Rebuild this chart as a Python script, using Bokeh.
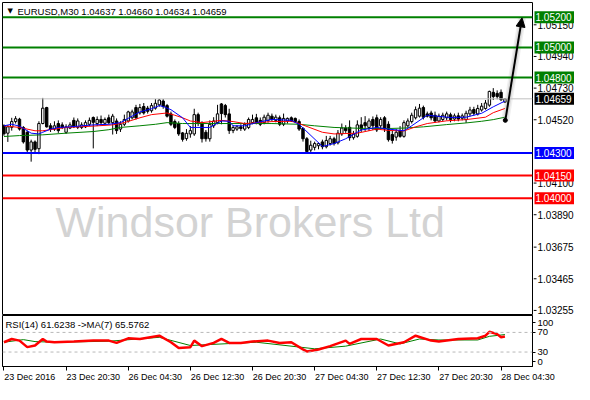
from bokeh.plotting import figure
from bokeh.layouts import column, row
from bokeh.models import (Range1d, FixedTicker, Span, Label, Arrow, NormalHead,
                          ColumnDataSource, CustomJSTickFormatter)
from bokeh.core.properties import value
from bokeh.embed import file_html
from bokeh.resources import INLINE

# ---------------- data ----------------
opens = [1.04480, 1.04431, 1.04470, 1.04508, 1.04524, 1.04469, 1.04437, 1.04319, 1.04373, 1.04328,
         1.04495, 1.04601, 1.04480, 1.04458, 1.04495, 1.04486, 1.04437, 1.04465, 1.04516, 1.04470,
         1.04469, 1.04473, 1.04490, 1.04535, 1.04495, 1.04522, 1.04497, 1.04533, 1.04501, 1.04512,
         1.04458, 1.04490, 1.04512, 1.04533, 1.04601, 1.04565, 1.04608, 1.04597, 1.04580, 1.04597,
         1.04619, 1.04644, 1.04614, 1.04559, 1.04508, 1.04495, 1.04433, 1.04395, 1.04426, 1.04426,
         1.04554, 1.04501, 1.04437, 1.04394, 1.04480, 1.04501, 1.04625, 1.04614, 1.04559, 1.04448,
         1.04458, 1.04473, 1.04458, 1.04469, 1.04501, 1.04533, 1.04516, 1.04501, 1.04516, 1.04544,
         1.04516, 1.04533, 1.04490, 1.04512, 1.04533, 1.04529, 1.04508, 1.04463, 1.04394, 1.04319,
         1.04337, 1.04348, 1.04373, 1.04341, 1.04362, 1.04394, 1.04367, 1.04426, 1.04465, 1.04470,
         1.04401, 1.04410, 1.04486, 1.04501, 1.04469, 1.04522, 1.04533, 1.04480, 1.04533, 1.04490,
         1.04422, 1.04405, 1.04448, 1.04410, 1.04480, 1.04508, 1.04533, 1.04544, 1.04601, 1.04559,
         1.04565, 1.04550, 1.04512, 1.04522, 1.04533, 1.04553, 1.04525, 1.04546, 1.04530, 1.04521,
         1.04559, 1.04588, 1.04559, 1.04585, 1.04595, 1.04617, 1.04702, 1.04695, 1.04702, 1.04637]
highs = [1.04490, 1.04484, 1.04533, 1.04544, 1.04533, 1.04478, 1.04448, 1.04388, 1.04383, 1.04510,
         1.04665, 1.04606, 1.04497, 1.04510, 1.04516, 1.04503, 1.04490, 1.04503, 1.04535, 1.04529,
         1.04503, 1.04516, 1.04535, 1.04542, 1.04542, 1.04548, 1.04535, 1.04554, 1.04559, 1.04529,
         1.04510, 1.04554, 1.04580, 1.04587, 1.04619, 1.04625, 1.04631, 1.04612, 1.04631, 1.04657,
         1.04657, 1.04657, 1.04625, 1.04574, 1.04522, 1.04510, 1.04439, 1.04458, 1.04478, 1.04593,
         1.04567, 1.04510, 1.04452, 1.04516, 1.04537, 1.04619, 1.04631, 1.04625, 1.04593, 1.04484,
         1.04484, 1.04490, 1.04503, 1.04535, 1.04554, 1.04559, 1.04535, 1.04554, 1.04567, 1.04561,
         1.04554, 1.04548, 1.04561, 1.04535, 1.04542, 1.04535, 1.04522, 1.04470, 1.04405, 1.04381,
         1.04375, 1.04369, 1.04388, 1.04413, 1.04413, 1.04407, 1.04452, 1.04495, 1.04484, 1.04516,
         1.04446, 1.04516, 1.04537, 1.04544, 1.04529, 1.04542, 1.04554, 1.04537, 1.04544, 1.04510,
         1.04446, 1.04458, 1.04478, 1.04516, 1.04529, 1.04567, 1.04608, 1.04625, 1.04614, 1.04574,
         1.04580, 1.04574, 1.04561, 1.04567, 1.04574, 1.04567, 1.04561, 1.04567, 1.04561, 1.04580,
         1.04606, 1.04606, 1.04619, 1.04631, 1.04651, 1.04713, 1.04730, 1.04715, 1.04721, 1.04660]
lows = [1.04414, 1.04373, 1.04448, 1.04495, 1.04448, 1.04362, 1.04294, 1.04242, 1.04294, 1.04292,
        1.04490, 1.04468, 1.04439, 1.04446, 1.04433, 1.04458, 1.04426, 1.04458, 1.04465, 1.04458,
        1.04458, 1.04465, 1.04478, 1.04330, 1.04478, 1.04484, 1.04484, 1.04490, 1.04422, 1.04426,
        1.04439, 1.04478, 1.04501, 1.04522, 1.04522, 1.04554, 1.04554, 1.04561, 1.04567, 1.04587,
        1.04606, 1.04593, 1.04535, 1.04478, 1.04458, 1.04413, 1.04375, 1.04381, 1.04401, 1.04413,
        1.04478, 1.04369, 1.04375, 1.04375, 1.04465, 1.04490, 1.04490, 1.04535, 1.04426, 1.04431,
        1.04446, 1.04446, 1.04446, 1.04458, 1.04490, 1.04490, 1.04478, 1.04490, 1.04501, 1.04510,
        1.04503, 1.04478, 1.04478, 1.04495, 1.04505, 1.04497, 1.04446, 1.04375, 1.04294, 1.04305,
        1.04317, 1.04324, 1.04324, 1.04330, 1.04349, 1.04349, 1.04356, 1.04413, 1.04433, 1.04381,
        1.04388, 1.04401, 1.04439, 1.04446, 1.04446, 1.04452, 1.04439, 1.04465, 1.04439, 1.04375,
        1.04362, 1.04381, 1.04401, 1.04401, 1.04469, 1.04495, 1.04522, 1.04535, 1.04522, 1.04535,
        1.04516, 1.04501, 1.04503, 1.04510, 1.04516, 1.04503, 1.04510, 1.04510, 1.04516, 1.04499,
        1.04542, 1.04548, 1.04548, 1.04574, 1.04587, 1.04606, 1.04651, 1.04656, 1.04644, 1.04634]
closes = [1.04427, 1.04473, 1.04508, 1.04527, 1.04458, 1.04373, 1.04319, 1.04373, 1.04324, 1.04495,
          1.04597, 1.04473, 1.04458, 1.04480, 1.04448, 1.04469, 1.04473, 1.04486, 1.04473, 1.04512,
          1.04486, 1.04501, 1.04516, 1.04503, 1.04522, 1.04501, 1.04522, 1.04501, 1.04544, 1.04448,
          1.04490, 1.04522, 1.04572, 1.04572, 1.04533, 1.04601, 1.04565, 1.04576, 1.04614, 1.04629,
          1.04651, 1.04608, 1.04544, 1.04490, 1.04469, 1.04426, 1.04390, 1.04430, 1.04448, 1.04554,
          1.04495, 1.04394, 1.04394, 1.04490, 1.04512, 1.04559, 1.04561, 1.04554, 1.04448, 1.04469,
          1.04473, 1.04462, 1.04490, 1.04522, 1.04522, 1.04501, 1.04490, 1.04537, 1.04550, 1.04522,
          1.04537, 1.04490, 1.04529, 1.04529, 1.04512, 1.04508, 1.04458, 1.04394, 1.04309, 1.04351,
          1.04362, 1.04362, 1.04341, 1.04383, 1.04394, 1.04362, 1.04431, 1.04465, 1.04448, 1.04401,
          1.04426, 1.04486, 1.04458, 1.04480, 1.04512, 1.04480, 1.04452, 1.04522, 1.04458, 1.04388,
          1.04383, 1.04437, 1.04410, 1.04501, 1.04512, 1.04550, 1.04587, 1.04597, 1.04537, 1.04544,
          1.04533, 1.04512, 1.04544, 1.04550, 1.04559, 1.04521, 1.04546, 1.04525, 1.04546, 1.04563,
          1.04585, 1.04563, 1.04595, 1.04610, 1.04631, 1.04708, 1.04674, 1.04674, 1.04653, 1.04659]
bars = list(range(len(opens)))

ma_blue_bar = [0, 2, 4, 6, 7, 9, 10, 12, 14, 17, 23, 27, 30, 33, 35, 38, 40, 41, 43, 46, 48, 53, 56,
               58, 59, 62, 65, 69, 74, 76, 82, 85, 88, 92, 96, 99, 103, 105, 108, 109, 115, 119, 123, 126, 129]
ma_blue_val = [1.04480, 1.04490, 1.04478, 1.04447, 1.04431, 1.04426, 1.04437, 1.04458, 1.04469, 1.04473,
               1.04486, 1.04490, 1.04501, 1.04544, 1.04572, 1.04593, 1.04614, 1.04608, 1.04587, 1.04533,
               1.04469, 1.04469, 1.04512, 1.04510, 1.04480, 1.04480, 1.04501, 1.04522, 1.04516, 1.04490,
               1.04343, 1.04362, 1.04394, 1.04452, 1.04469, 1.04458, 1.04447, 1.04480, 1.04533, 1.04550,
               1.04535, 1.04537, 1.04563, 1.04606, 1.04644]
ma_red_bar = [0, 4, 8, 10, 13, 16, 23, 28, 31, 35, 38, 42, 44, 46, 48, 51, 56, 59, 62, 69, 74, 76, 82,
              85, 91, 96, 99, 103, 106, 109, 114, 119, 124, 126, 129]
ma_red_val = [1.04480, 1.04469, 1.04447, 1.04447, 1.04458, 1.04469, 1.04478, 1.04486, 1.04501, 1.04533,
              1.04554, 1.04565, 1.04550, 1.04533, 1.04512, 1.04501, 1.04516, 1.04508, 1.04495, 1.04508,
              1.04510, 1.04495, 1.04437, 1.04426, 1.04431, 1.04458, 1.04449, 1.04446, 1.04473, 1.04495,
              1.04513, 1.04521, 1.04537, 1.04567, 1.04595]
ma_green_bar = [0, 4, 10, 16, 23, 27, 30, 35, 39, 42, 46, 56, 69, 76, 80, 85, 92, 99, 103, 108, 114,
                119, 123, 126, 129]
ma_green_val = [1.04409, 1.04415, 1.04420, 1.04431, 1.04442, 1.04454, 1.04469, 1.04480, 1.04490, 1.04501,
                1.04495, 1.04495, 1.04495, 1.04490, 1.04480, 1.04469, 1.04463, 1.04462, 1.04465, 1.04473,
                1.04488, 1.04499, 1.04510, 1.04521, 1.04537]

rsi_bar = [0, 2, 4, 6, 8, 10, 11, 13, 18, 23, 27, 29, 32, 35, 40, 43, 45, 48, 49, 51, 54, 56, 58, 61,
           64, 68, 71, 74, 77, 78, 81, 84, 88, 89, 92, 96, 99, 103, 106, 110, 112, 117, 122, 124, 125,
           127, 128, 129]
rsi_val = [50, 56.6, 53.3, 40, 43.3, 56.6, 51.3, 50, 51.3, 53.3, 53.3, 48.6, 58, 56.6, 63.3, 50, 38, 40,
           53.3, 42, 48.6, 56.6, 48.6, 48.6, 51.3, 53.3, 48.6, 50, 35.3, 31.3, 35.3, 42, 53.3, 46.6, 56.6,
           56.6, 43.3, 50, 63.3, 53.3, 51.3, 56.6, 58, 63.3, 71.3, 66.6, 60, 61.6]
rsi_ma_bar = [0, 5, 8, 13, 27, 40, 48, 65, 80, 88, 97, 102, 107, 112, 122, 125, 129]
rsi_ma_val = [50, 55.3, 51.3, 50, 52, 60, 43.3, 50, 36.6, 42, 56.6, 46.6, 56.6, 54.6, 54.6, 62, 65.6]

time_tick_bars = [0, 16, 32, 48, 64, 80, 96, 112, 128]
time_tick_labels = ["23 Dec 2016", "23 Dec 20:30", "26 Dec 04:30", "26 Dec 12:30", "26 Dec 20:30",
                    "27 Dec 04:30", "27 Dec 12:30", "27 Dec 20:30", "28 Dec 04:30"]
price_ticks = [1.05150, 1.04940, 1.04730, 1.04520, 1.04100, 1.03890, 1.03675, 1.03465, 1.03255]
level_prices = [1.05200, 1.05000, 1.04800, 1.04300, 1.04150, 1.04000]
level_colors = ["#008000", "#008000", "#008000", "#0000ff", "#ff0000", "#ff0000"]
rsi_levels = [70, 30]
rsi_tick_pos = [90, 70, 30, 10]
rsi_tick_labels = ["100", "70", "30", "0"]
arrow_bars = [129.1, 133.4]
arrow_prices = [1.04516, 1.05196]
header = "EURUSD,M30  1.04637 1.04660 1.04634 1.04659"
rsi_header = "RSI(14) 61.6238  ->MA(7) 65.5762"
watermark = "Windsor Brokers Ltd"

# ---------------- layout constants ----------------
FONT = "Liberation Sans"
FW = 530              # chart frame width
AXW = 41              # price-axis column width
XR = Range1d(-0.375, 136.1)
YR = Range1d(1.03228, 1.05298)
PX_PER_BAR = FW / (XR.end - XR.start)

# ---------------- main chart ----------------
p = figure(frame_width=FW, frame_height=312, x_range=XR, y_range=YR,
           x_axis_location=None, y_axis_location=None,
           toolbar_location=None, output_backend="svg",
           min_border_left=2, min_border_right=1, min_border_top=2, min_border_bottom=1,
           background_fill_color="white", border_fill_color="white")
p.grid.visible = False
p.outline_line_color = "black"
p.outline_line_width = 1

p.add_layout(Label(x=63.4, y=1.03888, y_offset=-7, text=watermark, text_align="center",
                   text_baseline="middle", text_font=FONT, text_font_size="43px",
                   text_color="#d3d3d3", level="underlay"))

for lv, col in zip(level_prices, level_colors):
    p.add_layout(Span(location=lv, dimension="width", line_color=col, line_width=2))
p.add_layout(Span(location=closes[-1], dimension="width", line_color="#c0c0c0", line_width=1))

up = [c >= o for o, c in zip(opens, closes)]
src = ColumnDataSource(dict(
    x=bars, o=opens, h=highs, l=lows, c=closes,
    top=[max(o, c) for o, c in zip(opens, closes)],
    bottom=[min(o, c) for o, c in zip(opens, closes)],
    fill=["white" if u else "black" for u in up]))
p.segment(x0="x", x1="x", y0="l", y1="h", source=src, line_color="black", line_width=1)
p.vbar(x="x", width=0.62, top="top", bottom="bottom", source=src,
       fill_color="fill", line_color="black", line_width=1)

p.line(ma_green_bar, ma_green_val, line_color="#008000", line_width=1)
p.line(ma_red_bar, ma_red_val, line_color="#ff0000", line_width=1)
p.line(ma_blue_bar, ma_blue_val, line_color="#0000ff", line_width=1)

p.line(arrow_bars, arrow_prices, line_color="#808080", line_width=8, line_alpha=0.12)
p.line(arrow_bars, arrow_prices, line_color="#808080", line_width=5, line_alpha=0.18)
p.add_layout(Arrow(x_start=arrow_bars[0], y_start=arrow_prices[0], x_end=arrow_bars[1], y_end=arrow_prices[1],
                   line_color="black", line_width=2,
                   end=NormalHead(size=9, fill_color="black", line_color="black", line_width=1)))
p.scatter([arrow_bars[0]], [arrow_prices[0]], size=4, color="black")

p.add_layout(Label(x=XR.start, y=YR.end, x_offset=5, y_offset=-4, text="\u25bc", text_baseline="top",
                   text_font="DejaVu Sans", text_font_size="7px", text_color="black"))
p.add_layout(Label(x=XR.start, y=YR.end, x_offset=15, y_offset=-3, text=header, text_baseline="top",
                   text_font=FONT, text_font_size="9.5px", text_color="black"))

# ---------------- price-axis column ----------------
pa = figure(frame_width=AXW, frame_height=312, x_range=Range1d(0, AXW), y_range=YR,
            x_axis_location=None, y_axis_location=None,
            toolbar_location=None, output_backend="svg",
            min_border_left=0, min_border_right=0, min_border_top=2, min_border_bottom=1,
            background_fill_color="white", border_fill_color="white")
pa.grid.visible = False
pa.outline_line_color = None
pa.segment(x0=[0] * len(price_ticks), x1=[3] * len(price_ticks), y0=price_ticks, y1=price_ticks,
           line_color="black", line_width=1)
pa.text(x=[4] * len(price_ticks), y=price_ticks, text=[f"{t:.5f}" for t in price_ticks],
        text_font=value(FONT), text_font_size=value("10px"), text_color="black",
        text_align="left", text_baseline="middle")
box_prices = level_prices + [closes[-1]]
box_colors = level_colors + ["black"]
pa.rect(x=[AXW / 2 + 0.5] * len(box_prices), y=box_prices, width=AXW - 1, height=12,
        width_units="screen", height_units="screen", fill_color=box_colors, line_color=None)
pa.text(x=[2] * len(box_prices), y=box_prices, text=[f"{b:.5f}" for b in box_prices],
        text_font=value(FONT), text_font_size=value("10px"), text_color="white",
        text_align="left", text_baseline="middle")

# ---------------- RSI panel ----------------
r = figure(frame_width=FW, frame_height=51, x_range=XR, y_range=Range1d(0.5, 104.5),
           y_axis_location="right", x_axis_location="below",
           toolbar_location=None, output_backend="svg",
           min_border_left=2, min_border_right=AXW + 1, min_border_top=0, min_border_bottom=16,
           background_fill_color="white", border_fill_color="white")
r.grid.visible = False
r.outline_line_color = "black"
ra = r.yaxis[0]
ra.ticker = FixedTicker(ticks=rsi_tick_pos)
ra.major_label_overrides = {t: s for t, s in zip(rsi_tick_pos, rsi_tick_labels)}
ra.major_tick_out = 3
ra.major_tick_in = 0
ra.minor_tick_out = 0
ra.minor_tick_in = 0
ra.major_label_standoff = 2
ra.major_label_text_font = FONT
ra.major_label_text_font_size = "9.5px"
ra.major_label_text_color = "black"

# time axis: minor ticks mark the bars, labels start at the tick (MT4 style)
CW = {"0": .556, "1": .556, "2": .556, "3": .556, "4": .556, "5": .556, "6": .556, "7": .556,
      "8": .556, "9": .556, " ": .278, ":": .278, "D": .722, "e": .556, "c": .5}
XFS = 9
label_centers = [b + sum(CW.get(ch, .556) for ch in s) * XFS / 2 / PX_PER_BAR + 0.3 / PX_PER_BAR
                 for b, s in zip(time_tick_bars, time_tick_labels)]
xa = r.xaxis[0]
xa.ticker = FixedTicker(ticks=label_centers, minor_ticks=time_tick_bars)
xa.formatter = CustomJSTickFormatter(args=dict(labels=time_tick_labels), code="return labels[index]")
xa.major_tick_out = 4
xa.major_tick_in = 0
xa.major_tick_line_color = None
xa.minor_tick_out = 4
xa.minor_tick_in = 0
xa.minor_tick_line_color = "black"
xa.major_label_standoff = 1
xa.major_label_text_font = FONT
xa.major_label_text_font_size = f"{XFS}px"
xa.major_label_text_color = "black"

for lv in rsi_levels:
    r.add_layout(Span(location=lv, dimension="width", line_color="#b8b8b8", line_width=1, line_dash="3 3"))
r.line(rsi_ma_bar, rsi_ma_val, line_color="#008000", line_width=1)
r.line(rsi_bar, rsi_val, line_color="#ff0000", line_width=2.5)
r.add_layout(Label(x=XR.start, y=104.5, x_offset=3, y_offset=-3, text=rsi_header, text_baseline="top",
                   text_font=FONT, text_font_size="9.5px", text_color="black"))

layout = column(row(p, pa, spacing=0), r, spacing=0)
open("out.html", "w").write(file_html(layout, INLINE))
